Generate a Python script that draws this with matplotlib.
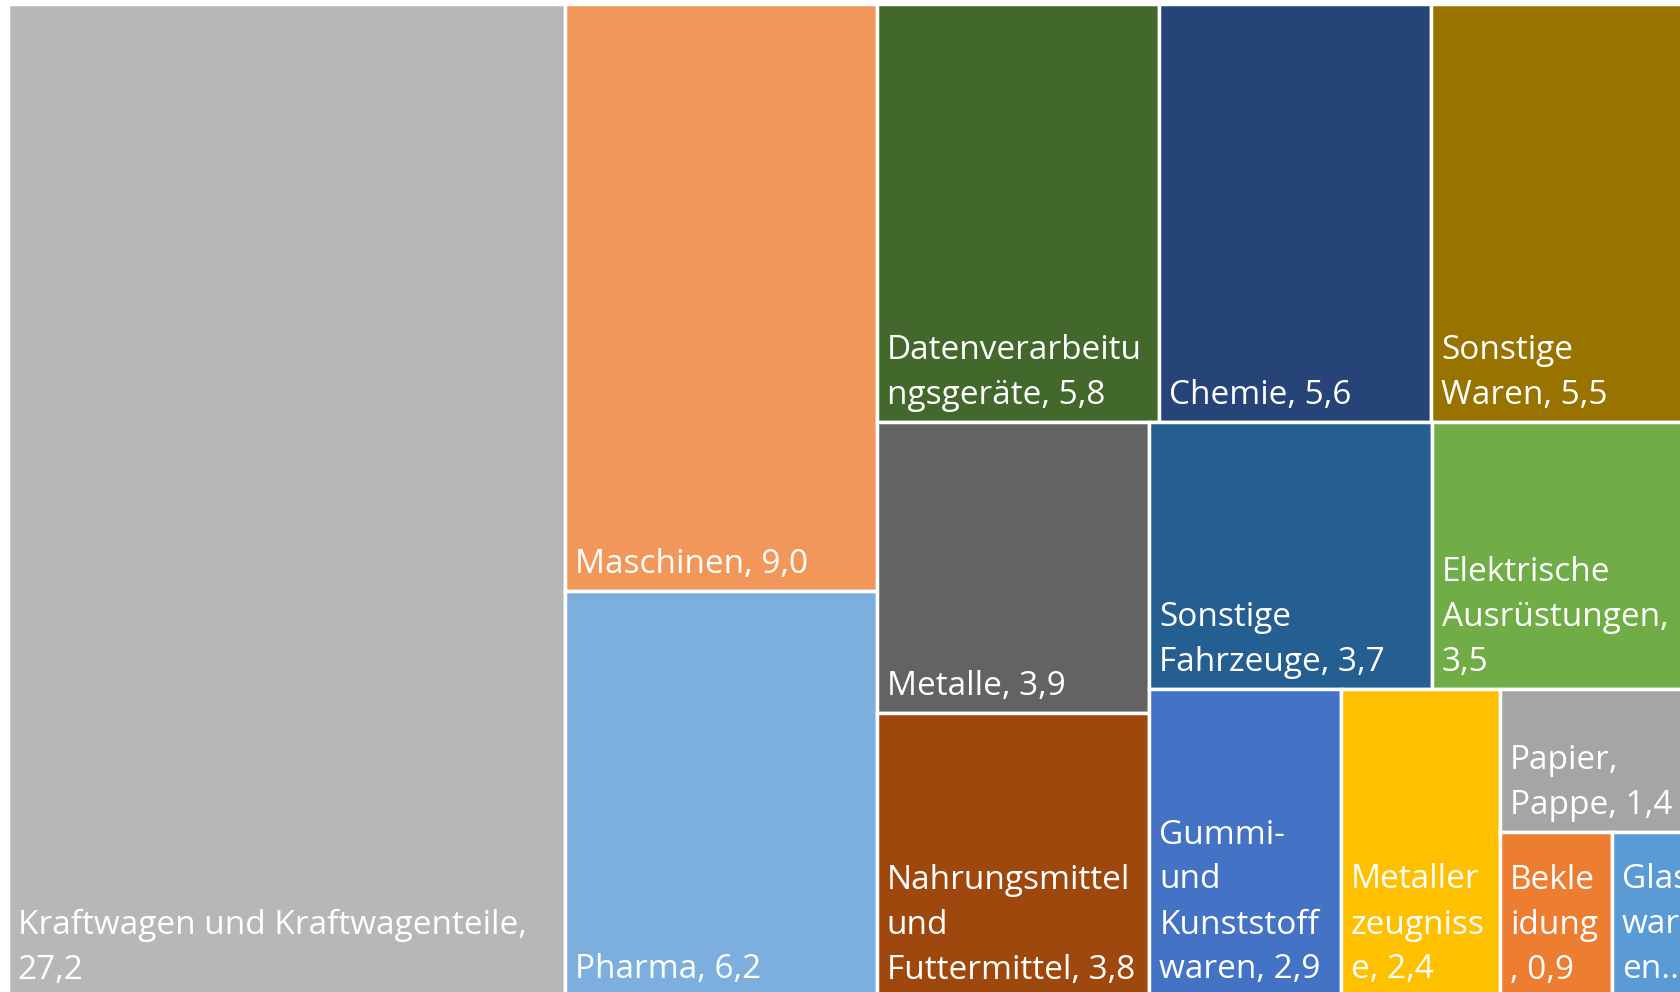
import matplotlib.pyplot as plt
from matplotlib.patches import Rectangle

# Werte (Anteil in %)
values = [27.2, 9.0, 6.2, 5.8, 5.6, 5.5, 3.9, 3.8, 3.7, 3.5, 2.9, 2.4, 1.4, 0.9, 0.7]

# Beschriftungen so umbrochen wie im Original
labels = [
    "Kraftwagen und Kraftwagenteile,\n27,2",
    "Maschinen, 9,0",
    "Pharma, 6,2",
    "Datenverarbeitu\nngsgeräte, 5,8",
    "Chemie, 5,6",
    "Sonstige\nWaren, 5,5",
    "Metalle, 3,9",
    "Nahrungsmittel\nund\nFuttermittel, 3,8",
    "Sonstige\nFahrzeuge, 3,7",
    "Elektrische\nAusrüstungen,\n3,5",
    "Gummi-\nund\nKunststoff\nwaren, 2,9",
    "Metaller\nzeugniss\ne, 2,4",
    "Papier,\nPappe, 1,4",
    "Bekle\nidung\n, 0,9",
    "Glas\nwar\nen...",
]

colors = [
    "#B7B7B7", "#F1975A", "#7CAFDD", "#43682B", "#264478",
    "#997300", "#636363", "#9E480E", "#255E91", "#70AD47",
    "#4472C4", "#FFC000", "#A5A5A5", "#ED7D31", "#5B9BD5",
]

# wie viele Kacheln pro Streifen (Excel-Anordnung)
strip_sizes = [1, 2, 3, 2, 2, 1, 1, 1, 1, 1]


def strip_layout(vals, sizes, x, y, w, h):
    # Streifen immer entlang der kuerzeren Seite legen
    rects = []
    scale = w * h / sum(vals)
    i = 0
    for n in sizes:
        group = vals[i:i + n]
        area = sum(group) * scale
        if w >= h:
            cw = area / h
            yy = y
            for v in group:
                rh = v * scale / cw
                rects.append((x, yy, cw, rh))
                yy += rh
            x += cw
            w -= cw
        else:
            rh = area / w
            xx = x
            for v in group:
                cw = v * scale / rh
                rects.append((xx, y, cw, rh))
                xx += cw
            y += rh
            h -= rh
        i += n
    return rects


fig = plt.figure(figsize=(16.8, 9.92), dpi=100)
ax = fig.add_axes([0, 0, 1, 1])
ax.set_xlim(0, 1680)
ax.set_ylim(992, 0)
ax.axis('off')

rects = strip_layout(values, strip_sizes, 7.5, 3.5, 1691, 993)

for (x, y, w, h), lab, col in zip(rects, labels, colors):
    ax.add_patch(Rectangle((x, y), w, h, facecolor=col, edgecolor='white', linewidth=2.5))
    ax.text(x + 10, y + h - 10, lab, color='white', fontsize=24, family='Open Sans',
            ha='left', va='bottom', linespacing=1.48)

fig.savefig('out.png', dpi=100)
